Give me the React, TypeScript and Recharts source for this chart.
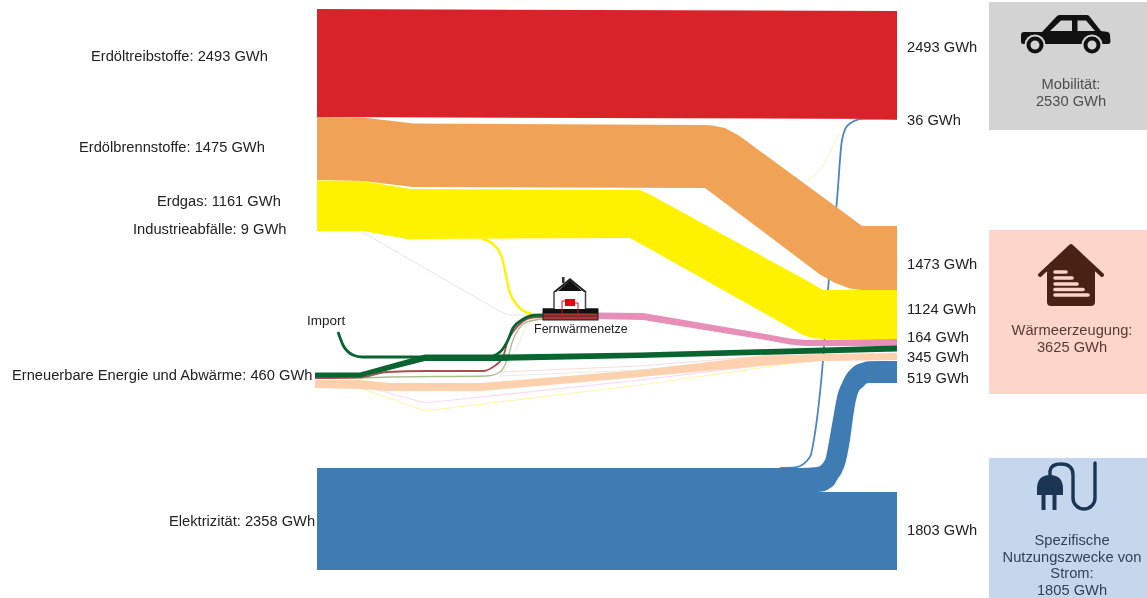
import React from "react";
import { ComposedChart, Area, Line, XAxis, YAxis, ReferenceArea, ReferenceDot } from "recharts";

// Source labels and values (GWh)
const sourceNames = ["Erdöltreibstoffe", "Erdölbrennstoffe", "Erdgas", "Industrieabfälle", "Erneuerbare Energie und Abwärme", "Elektrizität"];
const sourceValues = [2493, 1475, 1161, 9, 460, 2358];
// Flow values at the consumer side (GWh)
const sinkValues = [2493, 36, 1473, 1124, 164, 345, 519, 1803];
// Consumers
const mobilityLines = ["Mobilität:", "2530 GWh"];
const heatLines = ["Wärmeerzeugung:", "3625 GWh"];
const powerLines = ["Spezifische", "Nutzungszwecke von", "Strom:", "1805 GWh"];

// Schematic routes of the flows: [position along diagram, upper edge, lower edge]
const erdoeltreibstoffe = [[317, 9, 117], [897, 11, 119]];
const erdoelbrennstoffe = [[317, 117, 180], [363, 117.5, 181], [413, 123.5, 187], [705, 125, 188], [712, 125.5, 193.3], [725, 128, 203], [738, 135, 212.8], [745, 140, 218], [820, 195, 274.5], [835, 206, 283], [850, 217, 288.5], [862, 226, 290], [897, 226, 290]];
const erdgas = [[317, 180.5, 231], [363, 181, 231], [407, 188.5, 239], [413, 189, 239], [630, 190, 238], [640, 190, 243.6], [650, 194.5, 249], [803, 278.6, 335], [812, 283.5, 338], [823, 290, 339], [897, 290, 339]];
const fernwaermeOut = [[597, 312.5, 319], [643, 313, 320], [655, 315, 322], [760, 333, 339], [790, 338.5, 344.5], [806, 340, 346], [897, 339, 346]];
const erneuerbarGreen = [[315, 372.5, 377.5], [360, 372.5, 377.5], [425, 354.5, 361], [500, 354.5, 361], [640, 352.5, 358], [897, 345.5, 351.5]];
const erneuerbarPeach = [[315, 380, 388], [360, 380, 389], [390, 383, 391], [480, 383, 391], [640, 370, 377], [760, 356, 366], [823, 354, 361], [897, 353, 360]];
const stromWaerme = [[317, 468, 492], [800, 468, 492], [817, 467, 492], [825, 460, 491], [828, 447, 489.5], [831, 430, 487.5], [834, 413, 485], [837, 397, 480], [842, 383, 472], [846, 375, 461], [850, 370, 440], [855, 365.5, 405], [858, 364, 393], [863, 362.4, 387], [868, 361.2, 383], [897, 361, 383]];
const stromSpezifisch = [[317, 491.5, 570], [897, 492, 570]];

// Thin links: [position along diagram, level]
const stromMobil = [[780, 468], [795, 467.5], [810, 457], [815, 433], [823, 360], [828, 290], [837, 200], [842, 140], [848, 125], [863, 118.8], [897, 119]];
const importLink = [[338, 332], [343, 345], [353, 355], [362, 357], [488, 357], [500, 352], [508, 340], [513, 328], [522, 320], [533, 315.5], [543, 315]];
const brownLink = [[315, 378], [360, 377.5], [387, 372], [427, 371], [483, 371], [493, 367], [503, 357], [508, 340], [513, 332], [522, 322], [533, 317.5], [543, 317]];
const oliveLink = [[360, 378], [387, 377], [487, 376], [500, 372], [507, 360], [513, 340], [518, 330], [527, 322], [543, 319]];
const gasToHeatNet = [[482, 239], [493, 244], [502, 258], [510, 293], [517, 305], [528, 313], [540, 315]];
const wasteLink = [[362, 232], [503, 313], [510, 315], [543, 315]];
const palePink = [[360, 385], [425, 403], [640, 380], [823, 358]];
const paleYellow = [[360, 388], [425, 411], [640, 385], [823, 359]];
const paleRose = [[500, 372], [640, 366], [823, 351]];
const paleGrey = [[500, 376], [640, 370], [823, 353]];
const palePeach = [[500, 378], [516, 350], [530, 322], [543, 319]];
const paleGas = [[807, 180], [820, 170], [840, 133], [846, 125]];

const toBand = (rows: number[][]) => rows.map(([x, a, b]) => ({ x, band: [a, b] }));
const toLine = (rows: number[][]) => rows.map(([x, y]) => ({ x, y }));

const FONT = "'Liberation Sans', Arial, sans-serif";
const TEXT = "#222";

const Txt = (x: number, y: number, s: string, opts: any = {}) => (
  <ReferenceDot key={s + x + y} x={x} y={y} r={0} ifOverflow="visible"
    shape={(p: any) => (
      <text x={p.cx} y={p.cy} fontFamily={FONT} fontSize={opts.size ?? 14.7} fill={opts.fill ?? TEXT}
        textAnchor={opts.anchor ?? "start"} dominantBaseline="central">{s}</text>
    )} />
);

const Icon = (x: number, y: number, body: React.ReactNode, key: string) => (
  <ReferenceDot key={key} x={x} y={y} r={0} ifOverflow="visible"
    shape={(p: any) => <g transform={`translate(${p.cx},${p.cy})`}>{body}</g>} />
);

const car = (
  <g>
    <path d="M-24 2 L-9 -14 Q-8 -15 -6 -15 L21 -15 Q23 -15 24 -13 L35 1 L42 2 Q44 3 44 5 L44.5 12 Q44 14 42 14 L-43 14 Q-45 14 -45 12 L-45 5 Q-45 2 -42 2 Z" fill="#111" />
    <path d="M-16 1 L-5 -9.5 L6 -9.5 L6 1 Z M11.5 -9.5 L20 -9.5 L29 1 L11.5 1 Z" fill="#d3d3d3" />
    <circle cx={-31} cy={15} r={10.5} fill="#d3d3d3" />
    <circle cx={26} cy={15} r={10.5} fill="#d3d3d3" />
    <circle cx={-31} cy={15} r={6.5} fill="#d3d3d3" stroke="#111" strokeWidth={4} />
    <circle cx={26} cy={15} r={6.5} fill="#d3d3d3" stroke="#111" strokeWidth={4} />
  </g>
);

const heatHouse = (
  <g>
    <path d="M-31 0 L0 -29 L31 0" fill="none" stroke="#4a2115" strokeWidth={4} strokeLinecap="round" strokeLinejoin="round" />
    <path d="M-24 -7 L0 -29 L24 -7 L24 27 Q24 31 20 31 L-20 31 Q-24 31 -24 27 Z" fill="#4a2115" />
    <g stroke="#fbd3c8" strokeWidth={3.6} strokeLinecap="round">
      <line x1={-16} y1={-3} x2={-5} y2={-3} />
      <line x1={-16} y1={3} x2={1} y2={3} />
      <line x1={-16} y1={9} x2={6} y2={9} />
      <line x1={-16} y1={14.5} x2={12} y2={14.5} />
      <line x1={-16} y1={20} x2={17} y2={20} />
    </g>
  </g>
);

const plug = (
  <g>
    <path d="M-29 0 L-29 -6 Q-29 -20 -16 -20 Q-3 -20 -3 -6 L-3 0 Z" fill="#1d3555" />
    <rect x={-24.5} y={0} width={4} height={15} fill="#1d3555" />
    <rect x={-13.5} y={0} width={4} height={15} fill="#1d3555" />
    <path d="M-16 -20 L-16 -24 Q-15 -31 -5 -31 Q7 -31 7 -20 L7 3 A 11 11 0 0 0 29 3 L29 -32" fill="none" stroke="#1d3555" strokeWidth={3.4} strokeLinecap="round" />
  </g>
);

const heatNet = (
  <g>
    <rect x={-27} y={9} width={55} height={11} fill="#a83a3a" stroke="#1a1a1a" strokeWidth={1} />
    <rect x={-27} y={8.5} width={55} height={5} fill="#111" />
    <line x1={-27} y1={16} x2={28} y2={16} stroke="#5a1a1a" strokeWidth={1} />
    <rect x={-15.5} y={-8} width={30.5} height={17} fill="#fff" />
    <path d="M-16 -8 L-16 9 M15.5 -8 L15.5 9" stroke="#444" strokeWidth={1.5} />
    <rect x={-8} y={-23} width={2.5} height={6} fill="#333" />
    <path d="M-17 -8 L0 -22 L17 -8 L14 -8 L0 -19 L-14 -8 Z" fill="#222" />
    <path d="M-12 -9 L0 -19.5 L12 -9 Z" fill="#111" />
    <rect x={-5} y={-1} width={10} height={7} fill="#e8000b" />
    <path d="M-8 19 L-8 1 L-5 1 M5 3 L8 3 L8 19" fill="none" stroke="#c8101a" strokeWidth={1} />
  </g>
);

const areaProps = { isAnimationActive: false, stroke: "none", dot: false, activeDot: false, legendType: "none" as const, type: "linear" as const };
const lineProps = { isAnimationActive: false, dot: false, activeDot: false, legendType: "none" as const, type: "monotone" as const, fill: "none", dataKey: "y", strokeLinecap: "butt" as const };

export default function App() {
  return (
    <div style={{ position: "absolute", left: 0, top: 0, width: 1147, height: 598, background: "#fff", filter: "blur(0.35px)" }}>
      <ComposedChart width={1147} height={598} margin={{ top: 0, right: 0, bottom: 0, left: 0 }}>
        <XAxis type="number" dataKey="x" domain={[0, 1147]} hide allowDataOverflow />
        <YAxis type="number" domain={[0, 598]} reversed hide width={0} allowDataOverflow />

        <ReferenceArea x1={989} x2={1147} y1={2} y2={130} fill="#d3d3d3" fillOpacity={1} stroke="none" />
        <ReferenceArea x1={989} x2={1147} y1={230} y2={394} fill="#fdd5cb" fillOpacity={1} stroke="none" />
        <ReferenceArea x1={989} x2={1147} y1={458} y2={598} fill="#c5d7ec" fillOpacity={1} stroke="none" />

        <Line {...lineProps} zIndex={50} data={toLine(stromMobil)} stroke="#4a86c0" strokeWidth={1.8} />
        <Line {...lineProps} zIndex={50} data={toLine(paleGas)} stroke="#fbf7c0" strokeWidth={1} />
        <Line {...lineProps} type="linear" zIndex={50} data={toLine(wasteLink)} stroke="#e4e4e4" strokeWidth={1} />
        <Line {...lineProps} type="linear" zIndex={50} data={toLine(palePink)} stroke="#fbd8f5" strokeWidth={1.2} />
        <Line {...lineProps} type="linear" zIndex={50} data={toLine(paleYellow)} stroke="#fdf6b0" strokeWidth={1.2} />
        <Line {...lineProps} type="linear" zIndex={50} data={toLine(paleRose)} stroke="#f5dcdc" strokeWidth={1} />
        <Line {...lineProps} type="linear" zIndex={50} data={toLine(paleGrey)} stroke="#e6ece0" strokeWidth={1} />
        <Line {...lineProps} zIndex={50} data={toLine(palePeach)} stroke="#fbe6d8" strokeWidth={1} />

        <Area {...areaProps} data={toBand(erdoeltreibstoffe)} dataKey="band" fill="#d8232a" fillOpacity={1} />
        <Area {...areaProps} data={toBand(erdoelbrennstoffe)} dataKey="band" fill="#f0a257" fillOpacity={1} />
        <Area {...areaProps} data={toBand(erdgas)} dataKey="band" fill="#fff200" fillOpacity={1} />
        <Area {...areaProps} data={toBand(fernwaermeOut)} dataKey="band" fill="#e78fb8" fillOpacity={1} />
        <Area {...areaProps} data={toBand(erneuerbarPeach)} dataKey="band" fill="#fdd0ae" fillOpacity={1} />
        <Area {...areaProps} type="monotone" data={toBand(stromWaerme)} dataKey="band" fill="#3f7cb4" fillOpacity={1} />
        <Area {...areaProps} data={toBand(stromSpezifisch)} dataKey="band" fill="#3f7cb4" fillOpacity={1} />

        <Line {...lineProps} data={toLine(gasToHeatNet)} stroke="#fff200" strokeWidth={2.4} />
        <Line {...lineProps} data={toLine(oliveLink)} stroke="#a9bf8e" strokeWidth={1.4} />
        <Line {...lineProps} data={toLine(brownLink)} stroke="#a8504f" strokeWidth={1.8} />
        <Line {...lineProps} data={toLine(importLink)} stroke="#0a6430" strokeWidth={2.8} />
        <Area {...areaProps} zIndex={450} data={toBand(erneuerbarGreen)} dataKey="band" fill="#0a6430" fillOpacity={1} />

        {Icon(1066, 30, car, "car")}
        {Icon(1071, 275, heatHouse, "heat")}
        {Icon(1066, 495, plug, "plug")}
        {Icon(570, 300, heatNet, "net")}

        {Txt(91, 56, `${sourceNames[0]}: ${sourceValues[0]} GWh`)}
        {Txt(79, 147, `${sourceNames[1]}: ${sourceValues[1]} GWh`)}
        {Txt(157, 201, `${sourceNames[2]}: ${sourceValues[2]} GWh`)}
        {Txt(133, 229, `${sourceNames[3]}: ${sourceValues[3]} GWh`)}
        {Txt(12, 375, `${sourceNames[4]}: ${sourceValues[4]} GWh`)}
        {Txt(169, 521, `${sourceNames[5]}: ${sourceValues[5]} GWh`)}

        {[47, 120, 264, 309, 337, 357, 378, 530].map((y, i) => Txt(907, y, `${sinkValues[i]} GWh`))}

        {Txt(307, 320, "Import", { size: 13.5 })}
        {Txt(534, 329, "Fernwärmenetze", { size: 12.5 })}

        {mobilityLines.map((s, i) => Txt(1071, 84 + i * 17, s, { anchor: "middle", fill: "#4d4d4d" }))}
        {heatLines.map((s, i) => Txt(1072, 330 + i * 17, s, { anchor: "middle", fill: "#5a3a30" }))}
        {powerLines.map((s, i) => Txt(1072, 540 + i * 16.7, s, { anchor: "middle", fill: "#2f4258" }))}
      </ComposedChart>
    </div>
  );
}
